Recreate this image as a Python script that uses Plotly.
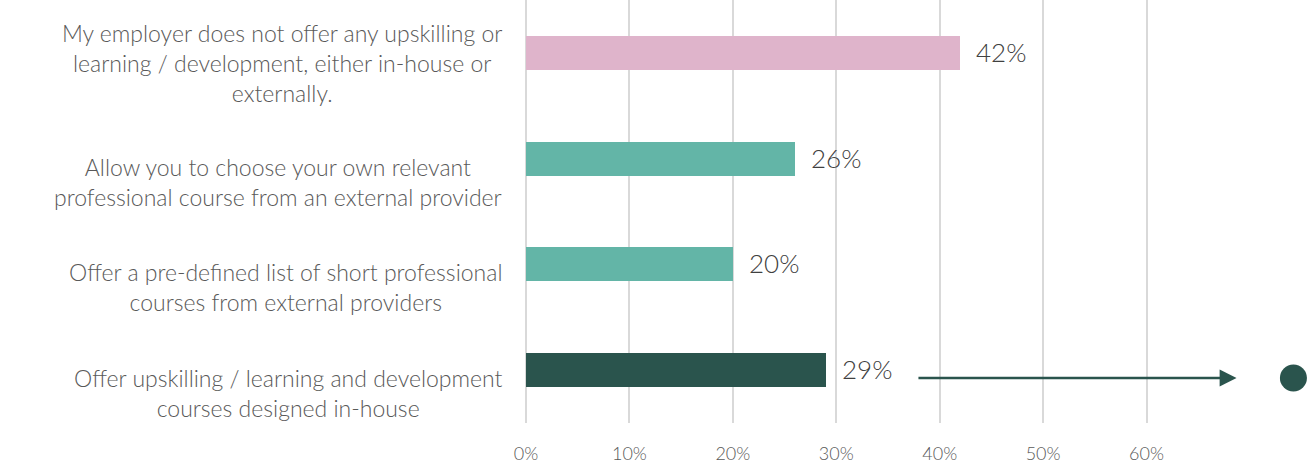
import plotly.graph_objects as go

# Survey responses: what kind of upskilling/learning the employer offers
categories = [
    "My employer does not offer any upskilling or<br>learning / development, either in-house or<br>externally.",
    "Allow you to choose your own relevant<br>professional course from an external provider",
    "Offer a pre-defined list of short professional<br>courses from external providers",
    "Offer upskilling / learning and development<br>courses designed in-house",
]
values = [42, 26, 20, 29]
bar_colors = ["#DFB4CB", "#63B5A7", "#63B5A7", "#2A544D"]
tick_values = [0, 10, 20, 30, 40, 50, 60]
tick_labels = ["0%", "10%", "20%", "30%", "40%", "50%", "60%"]

FONT = "Lato"
positions = list(range(len(categories)))

fig = go.Figure()
fig.add_trace(go.Bar(
    x=values,
    y=positions,
    orientation="h",
    marker=dict(color=bar_colors, line=dict(width=0)),
    width=0.32,
    hoverinfo="skip",
    showlegend=False,
))

# Highlight marker at the end of the pointer arrow
fig.add_trace(go.Scatter(
    x=[74.2],
    y=[3.075],
    mode="markers",
    marker=dict(size=27, color="#2A544D"),
    hoverinfo="skip",
    showlegend=False,
))

annotations = []
# value labels to the right of each bar
for v, p in zip(values, positions):
    annotations.append(dict(
        x=v, y=p, xref="x", yref="y",
        text=f"{v}%", showarrow=False,
        xanchor="left", yanchor="middle", xshift=14, yshift=1,
        font=dict(family=FONT, size=26, color="#404040", weight=300),
    ))
# category labels, centred block ending just left of the axis
for c, p in zip(categories, positions):
    n_lines = c.count("<br>") + 1
    annotations.append(dict(
        x=0, y=p, xref="x", yref="y",
        text=c, showarrow=False, align="center",
        xanchor="right", yanchor="middle", xshift=-22,
        yshift=-10 if n_lines > 2 else -23,
        font=dict(family=FONT, size=23, color="#595959", weight=300),
    ))
# pointer arrow
annotations.append(dict(
    x=68.7, y=3.075, ax=37.8, ay=3.075,
    xref="x", yref="y", axref="x", ayref="y",
    text="", showarrow=True,
    arrowhead=2, arrowsize=1.3, arrowwidth=2.6, arrowcolor="#2A544D",
))

fig.update_layout(
    width=1311, height=464,
    margin=dict(l=526, r=0, t=0, b=37),
    paper_bgcolor="white", plot_bgcolor="white",
    bargap=0,
    annotations=annotations,
    xaxis=dict(
        range=[0, 75.9],
        tickvals=tick_values, ticktext=tick_labels,
        showgrid=True, gridcolor="#D9D9D9", gridwidth=2,
        zeroline=True, zerolinecolor="#D9D9D9", zerolinewidth=2,
        showline=False,
        ticks="", ticklabelstandoff=18,
        tickfont=dict(family=FONT, size=18, color="#595959", weight=300),
        fixedrange=True,
    ),
    yaxis=dict(
        range=[3.5, -0.5],
        showticklabels=False, showgrid=False, zeroline=False,
        showline=False, ticks="",
        fixedrange=True,
    ),
)

fig.write_html("out.html")
